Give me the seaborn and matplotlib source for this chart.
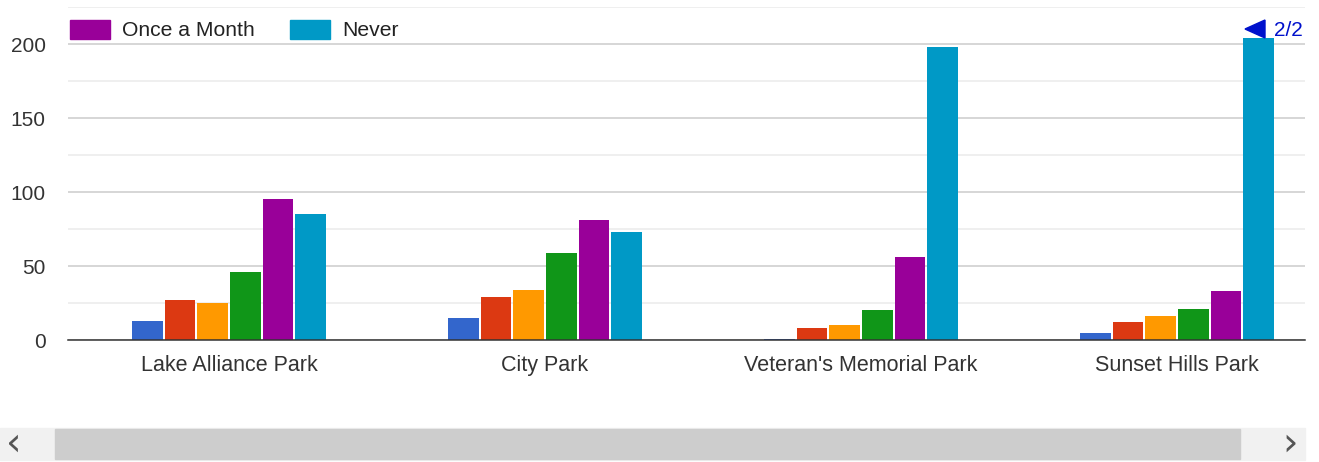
import matplotlib
matplotlib.use("Agg")
import matplotlib.pyplot as plt
from matplotlib.patches import Rectangle, Polygon
import seaborn as sns
import pandas as pd

# Survey: how often respondents visit each park
parks = ["Lake Alliance Park", "City Park", "Veteran's Memorial Park", "Sunset Hills Park"]
frequencies = ["Daily", "A Few Times a Week", "Once a Week", "A Few Times a Month",
               "Once a Month", "Never"]
daily = [13, 15, 1, 5]
few_week = [27, 29, 8, 12]
once_week = [25, 34, 10, 16]
few_month = [46, 59, 20, 21]
once_month = [95, 81, 56, 33]
never = [85, 73, 198, 204]
palette = ["#3366cc", "#dc3912", "#ff9900", "#109618", "#990099", "#0099c6"]

series = [daily, few_week, once_week, few_month, once_month, never]
rows = []
for freq, vals in zip(frequencies, series):
    for park, v in zip(parks, vals):
        rows.append({"park": park, "frequency": freq, "count": v})
df = pd.DataFrame(rows)

sns.set_style("white")
plt.rcParams["font.family"] = ["Liberation Sans", "DejaVu Sans"]

W, H = 1319, 462
fig = plt.figure(figsize=(W / 100, H / 100), dpi=100)
fig.patch.set_facecolor("white")

left_px, right_px, top_px, bottom_px = 68, 1305, 7, 340
ax = fig.add_axes([left_px / W, 1 - bottom_px / H,
                   (right_px - left_px) / W, (bottom_px - top_px) / H])

sns.barplot(data=df, x="park", y="count", hue="frequency", order=parks,
            hue_order=frequencies, palette=palette, width=0.62, gap=0.06,
            saturation=1, edgecolor="none", linewidth=0, ax=ax, legend=False)

x0 = -0.5 - 3 / 316
ax.set_xlim(x0, x0 + (right_px - left_px) / 316)
ax.set_ylim(0, 225)
ax.set_yticks([0, 50, 100, 150, 200])
ax.set_yticks([25, 75, 125, 175, 225], minor=True)
ax.grid(axis="y", which="major", color="#cccccc", linewidth=1.1)
ax.grid(axis="y", which="minor", color="#ebebeb", linewidth=1.1)
ax.set_axisbelow(True)
for s in ["top", "right", "left"]:
    ax.spines[s].set_visible(False)
ax.spines["bottom"].set_color("#333333")
ax.spines["bottom"].set_linewidth(1.1)
ax.tick_params(axis="both", which="both", length=0, labelcolor="#333333")
ax.tick_params(axis="x", pad=10.5, labelsize=15.5)
ax.tick_params(axis="y", pad=16, labelsize=15)
ax.set_xlabel("")
ax.set_ylabel("")

# Legend (second page)
def fx(px):
    return px / W

def fy(py):
    return 1 - py / H

for xl, col, label in [(70, palette[4], "Once a Month"), (290, palette[5], "Never")]:
    fig.patches.append(Rectangle((fx(xl), fy(39)), fx(40), 19 / H, color=col,
                                 transform=fig.transFigure, figure=fig))
    fig.text(fx(xl + 52), fy(30), label, fontsize=15.2, color="#222222",
             va="center", ha="left")

# Legend pager
fig.patches.append(Polygon([(fx(1245), fy(29)), (fx(1265), fy(20)), (fx(1265), fy(38))],
                           closed=True, color="#0011cc", transform=fig.transFigure,
                           figure=fig))
fig.text(fx(1274), fy(30), "2/2", fontsize=15, color="#0011cc", va="center", ha="left")

# Horizontal scrollbar
fig.patches.append(Rectangle((fx(0), fy(460)), fx(1305), 32 / H, color="#f1f1f1",
                             transform=fig.transFigure, figure=fig))
fig.patches.append(Rectangle((fx(55), fy(459)), fx(1185), 30 / H, color="#cdcdcd",
                             transform=fig.transFigure, figure=fig))
fig.text(fx(14), fy(444), "\u2039", fontsize=28, color="#555555", va="center",
         ha="center", family="DejaVu Sans")
fig.text(fx(1290), fy(444), "\u203a", fontsize=28, color="#555555", va="center",
         ha="center", family="DejaVu Sans")

fig.savefig("out.png", dpi=100, facecolor="white")
